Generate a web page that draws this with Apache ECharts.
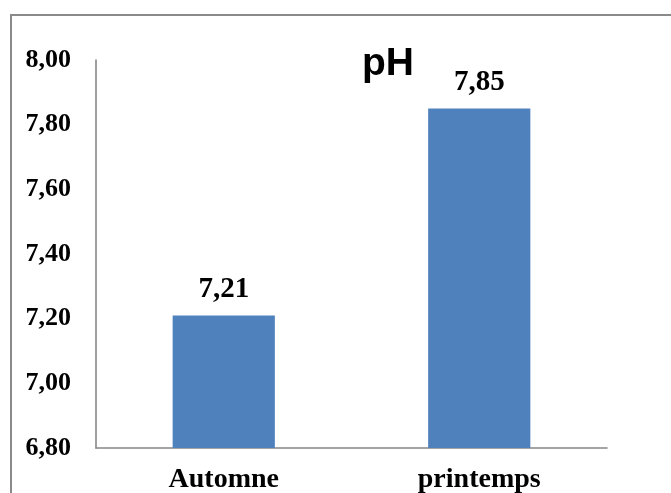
<!DOCTYPE html>
<html>
<head>
<meta charset="utf-8">
<script src="https://cdn.jsdelivr.net/npm/echarts@6/dist/echarts.min.js"></script>
<style>
  html, body { margin: 0; padding: 0; background: #ffffff; }
  #chart { width: 671px; height: 493px; }
</style>
</head>
<body>
<div id="chart"></div>
<script>
// pH par saison
const seasons = ['Automne', 'printemps'];
const phValues = [7.21, 7.85];
const axisMin = 6.8;
const axisMax = 8.0;
const axisStep = 0.2;

const fmt = v => v.toFixed(2).replace('.', ',');

const chart = echarts.init(document.getElementById('chart'), null, { renderer: 'canvas' });

chart.setOption({
  animation: false,
  backgroundColor: '#ffffff',
  title: {
    text: 'pH',
    left: 357,
    top: 40,
    textStyle: {
      fontFamily: 'Liberation Sans, Arial, sans-serif',
      fontWeight: 'bold',
      fontSize: 39,
      color: '#000000'
    }
  },
  graphic: [{
    type: 'rect',
    shape: { x: 11, y: 15, width: 720, height: 520 },
    style: { fill: 'none', stroke: '#8a8a8a', lineWidth: 2 },
    silent: true,
    z: 0
  }],
  grid: { left: 96, right: 64, top: 60, bottom: 45, outerBoundsMode: 'none', containLabel: false },
  xAxis: {
    type: 'category',
    data: seasons,
    axisLine: { lineStyle: { color: '#878787', width: 1.6 } },
    axisTick: { show: false },
    axisLabel: {
      margin: 18,
      fontFamily: 'Liberation Serif, Times New Roman, serif',
      fontWeight: 'bold',
      fontSize: 28,
      color: '#000000'
    }
  },
  yAxis: {
    type: 'value',
    min: axisMin,
    max: axisMax,
    interval: axisStep,
    splitLine: { show: false },
    axisLine: { show: true, lineStyle: { color: '#878787', width: 1.6 } },
    axisTick: { show: false },
    axisLabel: {
      margin: 25,
      padding: [6, 0, 0, 0],
      formatter: v => fmt(v),
      fontFamily: 'Liberation Serif, Times New Roman, serif',
      fontWeight: 'bold',
      fontSize: 26,
      color: '#000000'
    }
  },
  series: [{
    type: 'bar',
    data: phValues,
    barWidth: '40%',
    itemStyle: { color: '#4f81bd' },
    label: {
      show: true,
      position: 'top',
      distance: 11,
      formatter: p => fmt(p.value),
      fontFamily: 'Liberation Serif, Times New Roman, serif',
      fontWeight: 'bold',
      fontSize: 29,
      color: '#000000'
    }
  }]
});
</script>
</body>
</html>
